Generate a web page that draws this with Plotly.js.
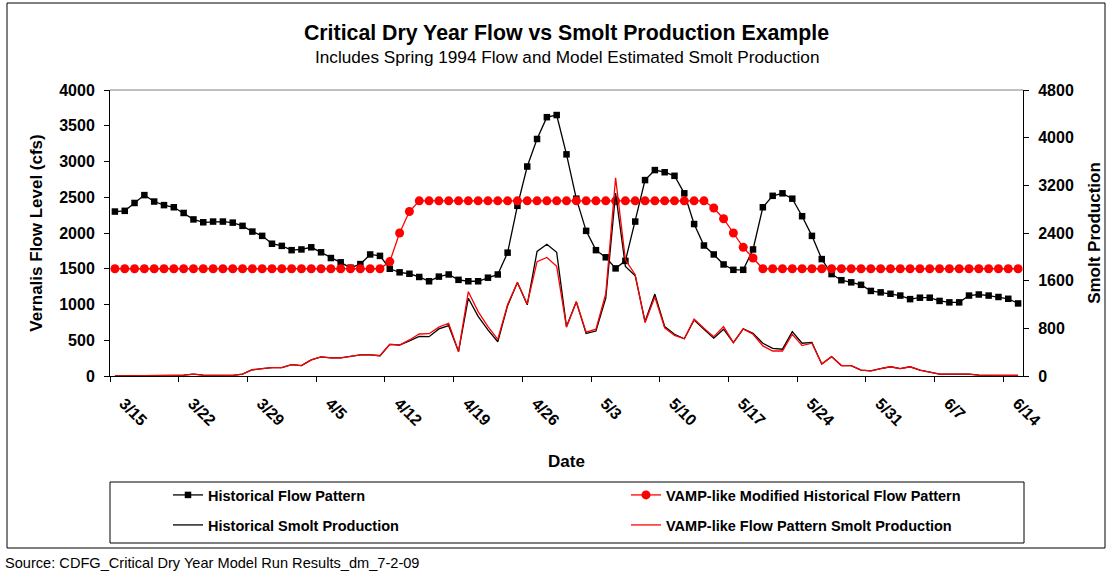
<!DOCTYPE html>
<html><head><meta charset="utf-8">
<script src="https://cdn.plot.ly/plotly-3.0.1.min.js"></script>
<style>html,body{margin:0;padding:0;background:#fff}#chart{width:1108px;height:571px}</style>
</head><body><div id="chart"></div>
<script>
// Categories: daily dates, spring 1994
const dates = [
 '3/15','3/16','3/17','3/18','3/19','3/20','3/21','3/22','3/23','3/24','3/25','3/26','3/27','3/28','3/29','3/30','3/31',
 '4/1','4/2','4/3','4/4','4/5','4/6','4/7','4/8','4/9','4/10','4/11','4/12','4/13','4/14','4/15','4/16','4/17','4/18','4/19','4/20',
 '4/21','4/22','4/23','4/24','4/25','4/26','4/27','4/28','4/29','4/30',
 '5/1','5/2','5/3','5/4','5/5','5/6','5/7','5/8','5/9','5/10','5/11','5/12','5/13','5/14','5/15','5/16','5/17','5/18','5/19','5/20',
 '5/21','5/22','5/23','5/24','5/25','5/26','5/27','5/28','5/29','5/30','5/31',
 '6/1','6/2','6/3','6/4','6/5','6/6','6/7','6/8','6/9','6/10','6/11','6/12','6/13','6/14','6/15'
];
const tickLabels = ['3/15','3/22','3/29','4/5','4/12','4/19','4/26','5/3','5/10','5/17','5/24','5/31','6/7','6/14'];

// Vernalis flow (cfs), left axis
const histFlow = [
 2300,2310,2420,2530,2440,2390,2360,2280,2190,2150,2160,2160,2145,2100,2020,1960,1850,1820,1760,1770,
 1800,1730,1650,1590,1515,1565,1700,1680,1500,1450,1430,1385,1325,1390,1420,1345,1325,1325,1375,1420,
 1725,2380,2930,3315,3620,3650,3100,2480,2030,1760,1660,1505,1610,2160,2740,2880,2850,2800,2555,2125,
 1825,1700,1560,1485,1485,1770,2360,2520,2555,2480,2235,1960,1635,1425,1340,1310,1275,1190,1170,1150,
 1125,1075,1095,1095,1050,1030,1030,1125,1140,1125,1105,1080,1015
];
const vampFlow = [
 1500,1500,1500,1500,1500,1500,1500,1500,1500,1500,1500,1500,1500,1500,1500,1500,1500,1500,1500,1500,
 1500,1500,1500,1500,1500,1500,1500,1500,1600,2000,2300,2450,2450,2450,2450,2450,2450,2450,2450,2450,
 2450,2450,2450,2450,2450,2450,2450,2450,2450,2450,2450,2450,2450,2450,2450,2450,2450,2450,2450,2450,
 2450,2350,2200,2000,1800,1650,1500,1500,1500,1500,1500,1500,1500,1500,1500,1500,1500,1500,1500,1500,
 1500,1500,1500,1500,1500,1500,1500,1500,1500,1500,1500,1500,1500
];

// Smolt production, right axis
const histSmolt = [
 0,0,0,5,10,12,12,15,30,15,10,10,12,30,105,125,140,140,190,175,
 270,320,305,305,325,355,355,340,530,520,590,665,660,790,845,410,1305,1000,775,575,
 1180,1570,1195,2090,2210,2075,830,1245,715,755,1305,3070,1840,1680,915,1375,830,700,625,940,
 785,635,785,560,790,715,550,465,450,745,550,565,200,325,175,175,100,85,125,155,
 125,155,100,65,30,30,30,30,15,10,10,8,8
];
const vampSmolt = [
 0,0,0,5,10,12,12,15,30,15,10,10,12,30,105,125,140,140,190,175,
 270,320,305,305,325,355,355,340,530,520,605,705,710,820,885,410,1415,1080,830,615,
 1200,1570,1210,1920,1990,1840,820,1245,735,785,1380,3325,1950,1700,895,1325,810,680,625,955,
 800,660,830,560,790,700,505,420,420,700,510,550,200,325,175,175,100,85,125,155,
 125,155,100,65,30,30,30,30,15,10,10,8,8
];

const idx = dates.map((d, i) => i);
const tickPos = tickLabels.map(l => dates.indexOf(l) - 0.5);

const FONT = 'Arial, "Liberation Sans", sans-serif';
const W = 1108, H = 571;
const M = {l: 110, r: 85, t: 90, b: 195};
const PW = W - M.l - M.r, PH = H - M.t - M.b;
const px = v => (v - M.l) / PW;          // pixel x -> paper x
const py = v => (H - M.b - v) / PH;      // pixel y -> paper y

const traces = [
  {x: idx, y: histFlow, text: dates, name: 'Historical Flow Pattern', mode: 'lines+markers', yaxis: 'y',
   line: {color: '#000000', width: 1.3}, marker: {symbol: 'square', size: 6.5, color: '#000000'}, legend: 'legend',
   hovertemplate: '%{text}: %{y}<extra></extra>'},
  {x: idx, y: vampFlow, text: dates, name: 'VAMP-like Modified Historical Flow Pattern', mode: 'lines+markers', yaxis: 'y',
   line: {color: '#ff0000', width: 1.3}, marker: {symbol: 'circle', size: 9, color: '#ff0000'}, legend: 'legend2',
   hovertemplate: '%{text}: %{y}<extra></extra>'},
  {x: idx, y: histSmolt, text: dates, name: 'Historical Smolt Production', mode: 'lines', yaxis: 'y2',
   line: {color: '#000000', width: 1.3}, legend: 'legend3', hovertemplate: '%{text}: %{y}<extra></extra>'},
  {x: idx, y: vampSmolt, text: dates, name: 'VAMP-like Flow Pattern Smolt Production', mode: 'lines', yaxis: 'y2',
   line: {color: '#ff0000', width: 1.3}, legend: 'legend4', hovertemplate: '%{text}: %{y}<extra></extra>'}
];

const legFont = {family: FONT, size: 14.5, weight: 'bold', color: '#000'};
const legBase = {orientation: 'h', xanchor: 'left', yanchor: 'middle', font: legFont, bgcolor: 'rgba(0,0,0,0)', borderwidth: 0};

const layout = {
  width: W, height: H,
  margin: Object.assign({autoexpand: false}, M),
  paper_bgcolor: '#ffffff', plot_bgcolor: '#ffffff',
  font: {family: FONT, color: '#000000'},
  showlegend: true,
  title: {text: 'Critical Dry Year Flow vs Smolt Production Example', font: {size: 21.3, weight: 'bold', family: FONT},
          xref: 'paper', x: 0.5, xanchor: 'center', yref: 'container', y: 1 - 33 / H, yanchor: 'middle'},
  annotations: [
    {text: 'Includes Spring 1994 Flow and Model Estimated Smolt Production', xref: 'paper', yref: 'paper',
     x: 0.5, y: py(57), xanchor: 'center', yanchor: 'middle', showarrow: false, font: {size: 17.2, family: FONT}},
    {text: 'Source: CDFG_Critical Dry Year Model Run Results_dm_7-2-09', xref: 'paper', yref: 'paper',
     x: px(3), y: py(563), xanchor: 'left', yanchor: 'middle', showarrow: false, font: {size: 14.6, family: FONT}}
  ],
  xaxis: {
    range: [-0.5, dates.length - 0.5], tickmode: 'array', tickvals: tickPos, ticktext: tickLabels,
    tickangle: 45, tickfont: {size: 16, weight: 'bold'}, ticks: 'outside', ticklen: 5, tickcolor: '#000',
    showline: true, linecolor: '#000', linewidth: 1, showgrid: false, zeroline: false,
    ticklabelshift: 14, ticklabelstandoff: 6,
    title: {text: 'Date', font: {size: 17, weight: 'bold'}, standoff: 27}
  },
  yaxis: {
    range: [0, 4000], tickmode: 'linear', tick0: 0, dtick: 500, ticks: 'outside', ticklen: 5, tickcolor: '#000',
    tickfont: {size: 16, weight: 'bold'}, showline: true, linecolor: '#000', linewidth: 1,
    showgrid: false, zeroline: false, ticklabelstandoff: 6,
    title: {text: 'Vernalis Flow Level (cfs)', font: {size: 17, weight: 'bold'}, standoff: 12}
  },
  yaxis2: {
    overlaying: 'y', side: 'right', range: [0, 4800], tickmode: 'linear', tick0: 0, dtick: 800,
    ticks: 'outside', ticklen: 5, tickcolor: '#000', tickfont: {size: 16, weight: 'bold'},
    showline: true, linecolor: '#000', linewidth: 1, showgrid: false, zeroline: false, ticklabelstandoff: 6,
    title: {text: 'Smolt Production', font: {size: 17, weight: 'bold'}, standoff: 15}
  },
  legend:  Object.assign({x: px(168), y: py(495)}, legBase),
  legend2: Object.assign({x: px(626), y: py(495)}, legBase),
  legend3: Object.assign({x: px(168), y: py(525)}, legBase),
  legend4: Object.assign({x: px(626), y: py(525)}, legBase),
  shapes: [
    {type: 'rect', xref: 'paper', yref: 'paper', x0: px(7), x1: px(1105), y0: py(548), y1: py(3),
     line: {color: '#000', width: 1}, fillcolor: 'rgba(0,0,0,0)', layer: 'below'},
    {type: 'rect', xref: 'paper', yref: 'paper', x0: px(110), x1: px(1024), y0: py(543), y1: py(482),
     line: {color: '#000', width: 1}, fillcolor: 'rgba(0,0,0,0)'},
    {type: 'line', xref: 'paper', yref: 'paper', x0: 0, x1: 1, y0: 1, y1: 1, line: {color: '#808080', width: 1}}
  ]
};

Plotly.newPlot('chart', traces, layout, {displayModeBar: false, responsive: false});
</script>
</body></html>
